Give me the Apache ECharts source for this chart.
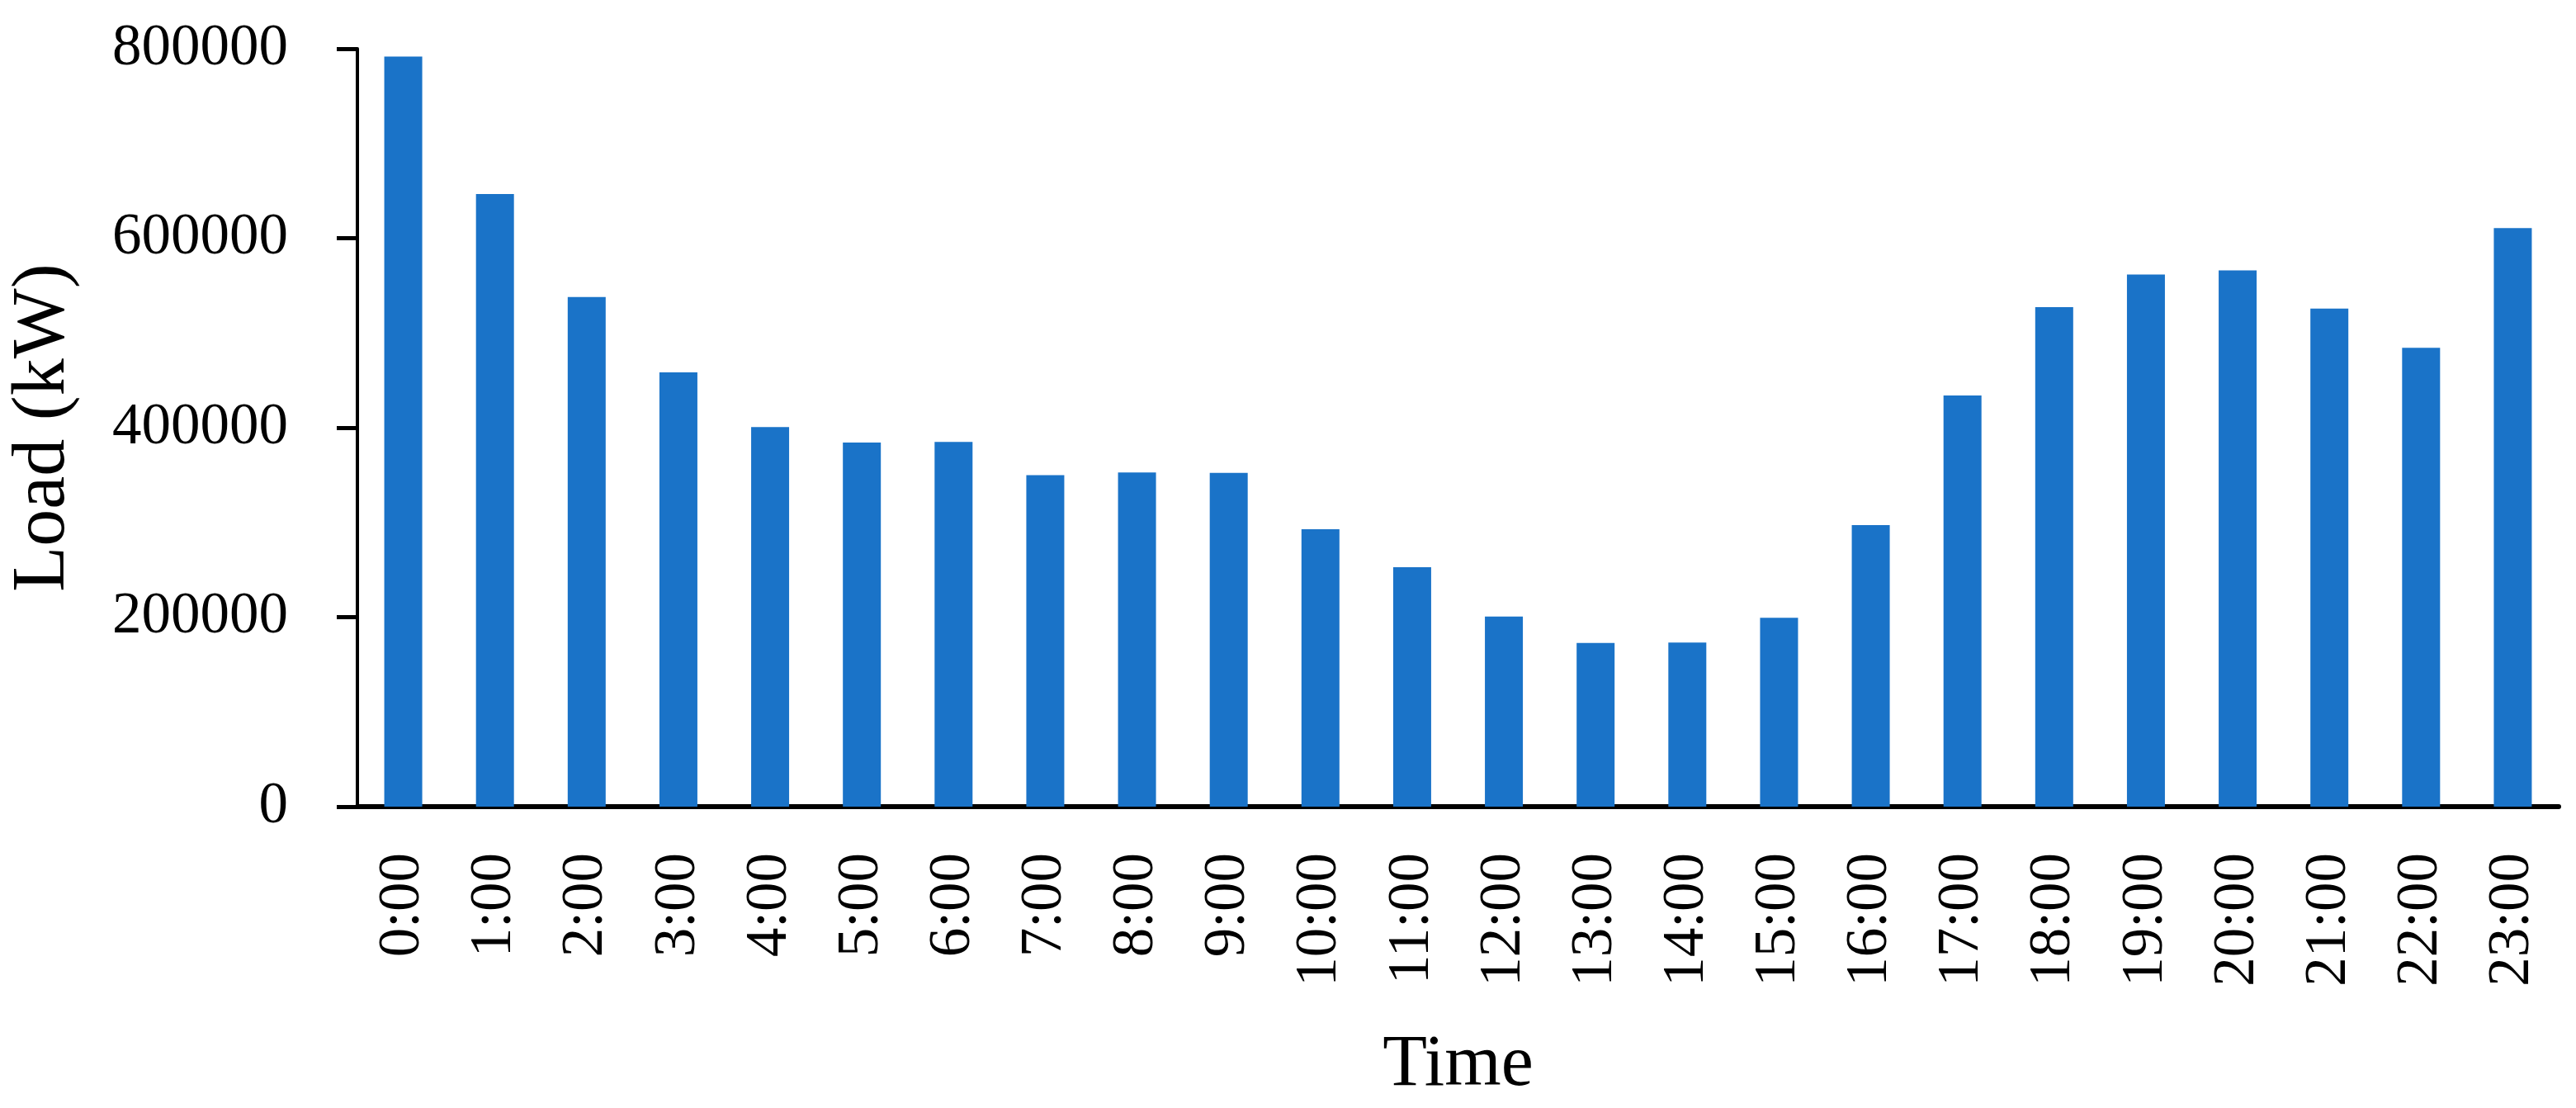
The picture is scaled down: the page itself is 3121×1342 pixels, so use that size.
<!DOCTYPE html>
<html>
<head>
<meta charset="utf-8">
<script src="https://cdn.jsdelivr.net/npm/echarts@6/dist/echarts.min.js"></script>
<style>
html,body{margin:0;padding:0;background:#fff;}
#chart{width:3121px;height:1342px;}
</style>
</head>
<body>
<div id="chart"></div>
<script>
const categories = ['0:00','1:00','2:00','3:00','4:00','5:00','6:00','7:00','8:00','9:00','10:00','11:00','12:00','13:00','14:00','15:00','16:00','17:00','18:00','19:00','20:00','21:00','22:00','23:00'];
const loadValues = [791700, 646700, 537800, 458300, 400600, 384400, 385000, 350000, 352800, 352200, 292800, 252800, 200600, 172800, 173300, 199400, 297200, 433900, 527200, 561700, 566100, 525600, 484400, 610600];
const yTicks = [0, 200000, 400000, 600000, 800000];

const FONT = '"Liberation Serif", "Times New Roman", serif';
const chart = echarts.init(document.getElementById('chart'));
chart.setOption({
  animation: false,
  backgroundColor: '#ffffff',
  grid: { left: 427, right: 21, top: 59, bottom: 365, containLabel: false },
  xAxis: {
    type: 'category',
    data: categories,
    boundaryGap: true,
    name: 'Time',
    nameLocation: 'middle',
    nameGap: 270,
    nameTextStyle: { fontFamily: FONT, fontSize: 88, color: '#000' },
    axisLine: { show: true, lineStyle: { color: '#000', width: 6 } },
    axisTick: { show: false },
    axisLabel: { rotate: 90, fontFamily: FONT, fontSize: 71, color: '#000', margin: 56, interval: 0 }
  },
  yAxis: {
    type: 'value',
    min: yTicks[0],
    max: yTicks[yTicks.length - 1],
    interval: 200000,
    name: 'Load (kW)',
    nameLocation: 'middle',
    nameGap: 335,
    nameTextStyle: { fontFamily: FONT, fontSize: 90, color: '#000' },
    axisLine: { show: true, lineStyle: { color: '#000', width: 4 } },
    axisTick: { show: true, inside: false, length: 25, lineStyle: { color: '#000', width: 5 } },
    axisLabel: { fontFamily: FONT, fontSize: 71, color: '#000', margin: 84, formatter: function (v) { return String(v); } },
    splitLine: { show: false }
  },
  series: [{
    type: 'bar',
    data: loadValues,
    barWidth: 46,
    itemStyle: { color: '#1a73c8' }
  }]
});
</script>
</body>
</html>
